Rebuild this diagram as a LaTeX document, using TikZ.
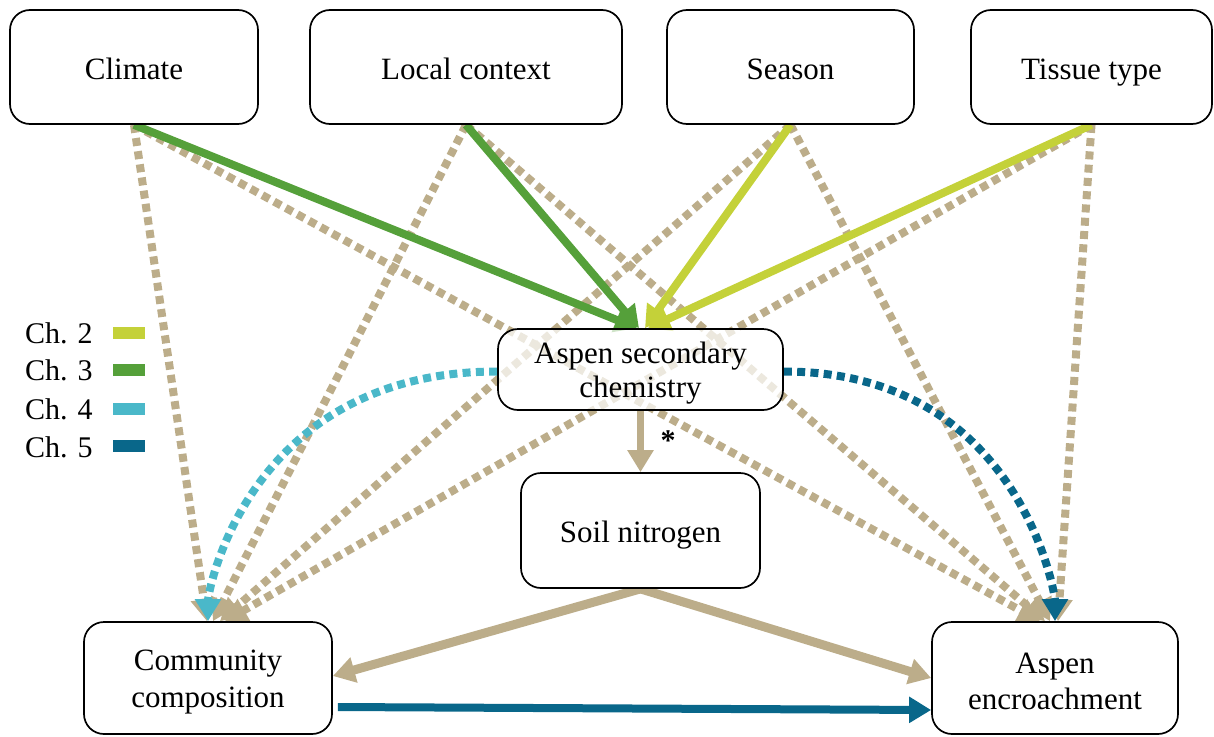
\documentclass[tikz,border=0pt]{standalone}
\usepackage{fontspec}
\setmainfont{Liberation Serif}
\usetikzlibrary{arrows.meta}
\pgfdeclarelayer{bg}
\pgfsetlayers{bg,main}
\definecolor{chtwo}{HTML}{C4D139}
\definecolor{chthree}{HTML}{55A03A}
\definecolor{chfour}{HTML}{4AB8C9}
\definecolor{chfive}{HTML}{09678A}
\definecolor{tanc}{HTML}{BCAD8A}
\begin{document}
\begin{tikzpicture}[x=1pt,y=-1pt,
  box/.style={draw=black,line width=1.7pt,rounded corners=20pt,fill=white,inner sep=0pt,align=center,font=\fontsize{31}{36}\selectfont},
  oneline/.style={text height=31pt,text depth=7pt},
  headA/.style={-{Triangle[length=22pt,width=25pt]}},
  dotl/.style={draw=tanc,line width=8pt,dash pattern=on 8pt off 5.3pt,headA},
  dotc/.style={line width=8pt,dash pattern=on 8pt off 5.3pt,headA},
  solidl/.style={line width=8pt,headA},
  legtext/.style={anchor=west,inner sep=0pt,font=\fontsize{30}{36}\selectfont}
]
\useasboundingbox (0,0) rectangle (1214,736);

% boxes
\node[box,oneline,minimum width=248pt,minimum height=114pt] (clim) at (134,67) {Climate};
\node[box,oneline,minimum width=312pt,minimum height=114pt] (local) at (466,67) {Local context};
\node[box,oneline,minimum width=247pt,minimum height=114pt] (season) at (790.5,67) {Season};
\node[box,oneline,minimum width=241pt,minimum height=114pt] (tissue) at (1091.5,67) {Tissue type};
\node[box,minimum width=285pt,minimum height=81pt,fill opacity=0.72,text opacity=1,draw opacity=1,font=\fontsize{31}{34}\selectfont] (chem) at (640.5,369.5) {\rule{0pt}{28pt}Aspen secondary\\chemistry};
\node[box,oneline,minimum width=239pt,minimum height=115pt] (soil) at (640.5,530.5) {Soil nitrogen};
\node[box,minimum width=248pt,minimum height=112pt,font=\fontsize{31}{37}\selectfont] (comm) at (208,678) {\rule{0pt}{29pt}Community\\composition};
\node[box,minimum width=246pt,minimum height=112pt] (enc) at (1055,678) {\rule{0pt}{28pt}Aspen\\encroachment};

% legend
\node[legtext] (l2) at (25,333) {Ch. 2};
\node[legtext] (l3) at (25,370) {Ch. 3};
\node[legtext] (l4) at (25,409) {Ch. 4};
\node[legtext] (l5) at (25,447) {Ch. 5};
\fill[chtwo] (113,327) rectangle (145,339);
\fill[chthree] (113,364) rectangle (145,376);
\fill[chfour] (113,403) rectangle (145,415);
\fill[chfive] (113,440) rectangle (145,452);

% asterisk
\node[inner sep=0pt,font=\fontsize{30}{36}\selectfont\bfseries] (star) at (668,441) {*};

\begin{pgfonlayer}{bg}
% tan dotted paths to community composition
\draw[dotl] (clim.south) -- ([xshift=-1pt]comm.north);
\draw[dotl] (local.south) -- ([xshift=5pt]comm.north);
\draw[dotl] (season.south) -- ([xshift=12pt]comm.north);
\draw[dotl] (tissue.south) -- ([xshift=17pt]comm.north);
% tan dotted paths to aspen encroachment
\draw[dotl] (clim.south) -- ([xshift=-15pt]enc.north);
\draw[dotl] (local.south) -- ([xshift=-10pt]enc.north);
\draw[dotl] (season.south) -- ([xshift=-5pt]enc.north);
\draw[dotl] (tissue.south) -- ([xshift=3pt]enc.north);
% chapter 4 and 5 dotted curves
\draw[dotc,draw=chfour] ([yshift=-2pt]chem.west) .. controls ([xshift=-248pt,yshift=-2pt]chem.west) and ([yshift=30pt]comm.north) .. (comm.north);
\draw[dotc,draw=chfive] ([yshift=-2pt]chem.east) .. controls ([xshift=235pt,yshift=-2pt]chem.east) and ([yshift=27pt]enc.north) .. (enc.north);
% tan solid
\draw[solidl,draw=tanc,line width=7pt] (chem.south) -- (soil.north);
\draw[solidl,draw=tanc,line width=9pt] (soil.south) -- ([yshift=2pt]comm.east);
\draw[solidl,draw=tanc,line width=9pt] (soil.south) -- (enc.west);
% green solid
\draw[solidl,draw=chthree] (clim.south) -- ([xshift=-3.5pt]chem.north);
\draw[solidl,draw=chthree] (local.south) -- ([xshift=-1.5pt]chem.north);
\draw[solidl,draw=chtwo] (season.south) -- ([xshift=4.5pt]chem.north);
\draw[solidl,draw=chtwo] (tissue.south) -- ([xshift=7.5pt]chem.north);
% teal solid
\draw[solidl,draw=chfive,line width=8pt] ([xshift=5pt,yshift=-29pt]comm.east) -- ([yshift=-32pt]enc.west);
\end{pgfonlayer}
\end{tikzpicture}
\end{document}
